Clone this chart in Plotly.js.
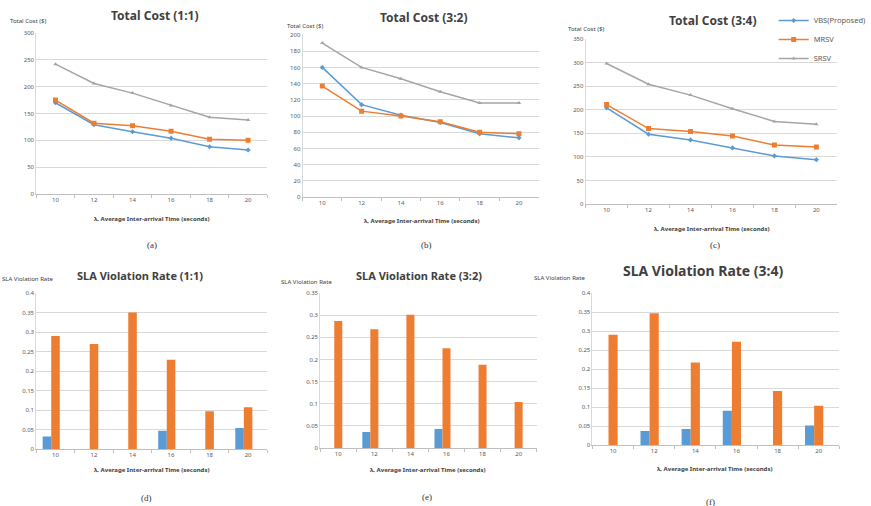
<!DOCTYPE html>
<html>
<head>
<meta charset="utf-8">
<script src="https://cdn.plot.ly/plotly-3.0.1.min.js"></script>
<style>html,body{margin:0;padding:0;background:#fff;}#chart{width:871px;height:506px;}</style>
</head>
<body>
<div id="chart"></div>
<script>
// ---- data ----
const categories = ['10', '12', '14', '16', '18', '20'];
const seriesNames = ['VBS(Proposed)', 'MRSV', 'SRSV'];

const costVBS_11  = [170, 129, 116, 104, 88, 82];
const costMRSV_11 = [175, 132, 127, 117, 102, 100];
const costSRSV_11 = [242, 206, 188, 165, 143, 138];

const costVBS_32  = [160, 114, 101, 92, 78, 73];
const costMRSV_32 = [137, 106, 100, 93, 80, 78];
const costSRSV_32 = [190, 160, 146, 130, 116, 116];

const costVBS_34  = [204, 148, 136, 119, 102, 94];
const costMRSV_34 = [211, 160, 154, 144, 125, 121];
const costSRSV_34 = [298, 254, 231, 202, 175, 169];

const slaVBS_11  = [0.032, 0, 0, 0.047, 0, 0.054];
const slaMRSV_11 = [0.290, 0.269, 0.350, 0.229, 0.097, 0.107];

const slaVBS_32  = [0, 0.036, 0, 0.043, 0, 0];
const slaMRSV_32 = [0.287, 0.268, 0.301, 0.225, 0.188, 0.104];

const slaVBS_34  = [0, 0.037, 0.042, 0.090, 0, 0.051];
const slaMRSV_34 = [0.290, 0.347, 0.217, 0.272, 0.142, 0.103];

const panelTitles = ['Total Cost (1:1)', 'Total Cost (3:2)', 'Total Cost (3:4)',
                     'SLA Violation Rate (1:1)', 'SLA Violation Rate (3:2)', 'SLA Violation Rate (3:4)'];
const yTitles = ['Total Cost ($)', 'Total Cost ($)', 'Total Cost ($)',
                 'SLA Violation Rate', 'SLA Violation Rate', 'SLA Violation Rate'];
const xTitle = 'λ, Average Inter-arrival Time (seconds)';
const subLabels = ['(a)', '(b)', '(c)', '(d)', '(e)', '(f)'];

// ---- layout geometry (pixels) ----
const W = 871, H = 506;
const BLUE = '#5B9BD5', ORANGE = '#ED7D31', GRAY = '#A5A5A5';
const panels = [
  {px:[37,273],  py:[33,194],  yr:[0,300],  dt:50,   tt:[158,15],  ts:12, yt:[8,21],    xt:[155,219], sl:[155,245]},
  {px:[309,550], py:[35,197],  yr:[0,200],  dt:20,   tt:[432,17],  ts:12, yt:[291,26],  xt:[430,221], sl:[435,245]},
  {px:[598,855], py:[39,204],  yr:[0,350],  dt:50,   tt:[728,21],  ts:12, yt:[578,29],  xt:[727,229], sl:[730,245]},
  {px:[37,273],  py:[293,449], yr:[0,0.4],  dt:0.05, tt:[143,275], ts:11, yt:[0,279],   xt:[155,470], sl:[150,498]},
  {px:[327,548], py:[293,448], yr:[0,0.35], dt:0.05, tt:[428,275], ts:11, yt:[285,282], xt:[437,470], sl:[436,497]},
  {px:[605,857], py:[293,445], yr:[0,0.4],  dt:0.05, tt:[718,270], ts:14, yt:[543,278], xt:[730,469], sl:[725,502]}
];

const lineData = [
  [costVBS_11, costMRSV_11, costSRSV_11],
  [costVBS_32, costMRSV_32, costSRSV_32],
  [costVBS_34, costMRSV_34, costSRSV_34]
];
const barData = [
  [slaVBS_11, slaMRSV_11],
  [slaVBS_32, slaMRSV_32],
  [slaVBS_34, slaMRSV_34]
];

const colors = [BLUE, ORANGE, GRAY];
const symbols = ['diamond', 'square', 'triangle-up'];
const msizes = [4, 5, 4];

const traces = [];
lineData.forEach((set, p) => {
  const ax = p === 0 ? '' : String(p + 1);
  set.forEach((vals, s) => {
    traces.push({
      type: 'scatter', mode: 'lines+markers',
      x: categories, y: vals, name: seriesNames[s],
      xaxis: 'x' + ax, yaxis: 'y' + ax,
      line: {color: colors[s], width: 1.5},
      marker: {color: colors[s], symbol: symbols[s], size: msizes[s]},
      showlegend: p === 2
    });
  });
});
barData.forEach((set, b) => {
  const ax = String(b + 4);
  set.forEach((vals, s) => {
    traces.push({
      type: 'bar', x: categories, y: vals, name: seriesNames[s],
      xaxis: 'x' + ax, yaxis: 'y' + ax,
      marker: {color: colors[s]},
      width: 0.222, offset: s === 0 ? -0.333 : -0.111,
      showlegend: false
    });
  });
});

const FONT = 'Noto Sans, Open Sans, sans-serif';
const layout = {
  width: W, height: H,
  margin: {l: 0, r: 0, t: 0, b: 0},
  paper_bgcolor: '#fff', plot_bgcolor: 'rgba(0,0,0,0)',
  font: {family: FONT, color: '#595959', size: 6},
  barmode: 'group',
  showlegend: true,
  legend: {x: 790 / W, y: 1 - 6 / H, xanchor: 'left', yanchor: 'top',
           bgcolor: 'rgba(0,0,0,0)', font: {size: 7.5, color: '#595959'},
           itemwidth: 30, tracegroupgap: 0},
  annotations: []
};

panels.forEach((p, i) => {
  const ax = i === 0 ? '' : String(i + 1);
  layout['xaxis' + ax] = {
    domain: [p.px[0] / W, p.px[1] / W],
    anchor: 'y' + ax,
    type: 'category', range: [-0.5, 5.5],
    showline: true, linecolor: '#BFBFBF', linewidth: 1,
    ticks: 'outside', tickson: 'boundaries', ticklen: 3, tickcolor: '#BFBFBF',
    showgrid: false, zeroline: false,
    tickfont: {size: 6, color: '#595959'}, fixedrange: true
  };
  layout['yaxis' + ax] = {
    domain: [1 - p.py[1] / H, 1 - p.py[0] / H],
    anchor: 'x' + ax,
    range: p.yr, dtick: p.dt, tick0: 0,
    showline: true, linecolor: '#D9D9D9', linewidth: 1,
    ticks: '', showgrid: true, gridcolor: '#D9D9D9', gridwidth: 1,
    zeroline: false, tickfont: {size: 6, color: '#595959'}, fixedrange: true
  };
  layout.annotations.push(
    {text: '<b>' + panelTitles[i] + '</b>', xref: 'paper', yref: 'paper',
     x: p.tt[0] / W, y: 1 - p.tt[1] / H, xanchor: 'center', yanchor: 'middle',
     showarrow: false, font: {size: p.ts, color: '#404040', family: FONT}},
    {text: yTitles[i], xref: 'paper', yref: 'paper',
     x: p.yt[0] / W, y: 1 - p.yt[1] / H, xanchor: 'left', yanchor: 'middle',
     showarrow: false, font: {size: 6, color: '#404040', family: FONT}},
    {text: '<b>' + xTitle + '</b>', xref: 'paper', yref: 'paper',
     x: p.xt[0] / W, y: 1 - p.xt[1] / H, xanchor: 'center', yanchor: 'middle',
     showarrow: false, font: {size: 6, color: '#404040', family: FONT}},
    {text: subLabels[i], xref: 'paper', yref: 'paper',
     x: p.sl[0] / W, y: 1 - p.sl[1] / H, xanchor: 'center', yanchor: 'middle',
     showarrow: false, font: {size: 9, color: '#333', family: 'Liberation Serif, serif'}}
  );
});

Plotly.newPlot('chart', traces, layout, {displayModeBar: false, staticPlot: true});
</script>
</body>
</html>
